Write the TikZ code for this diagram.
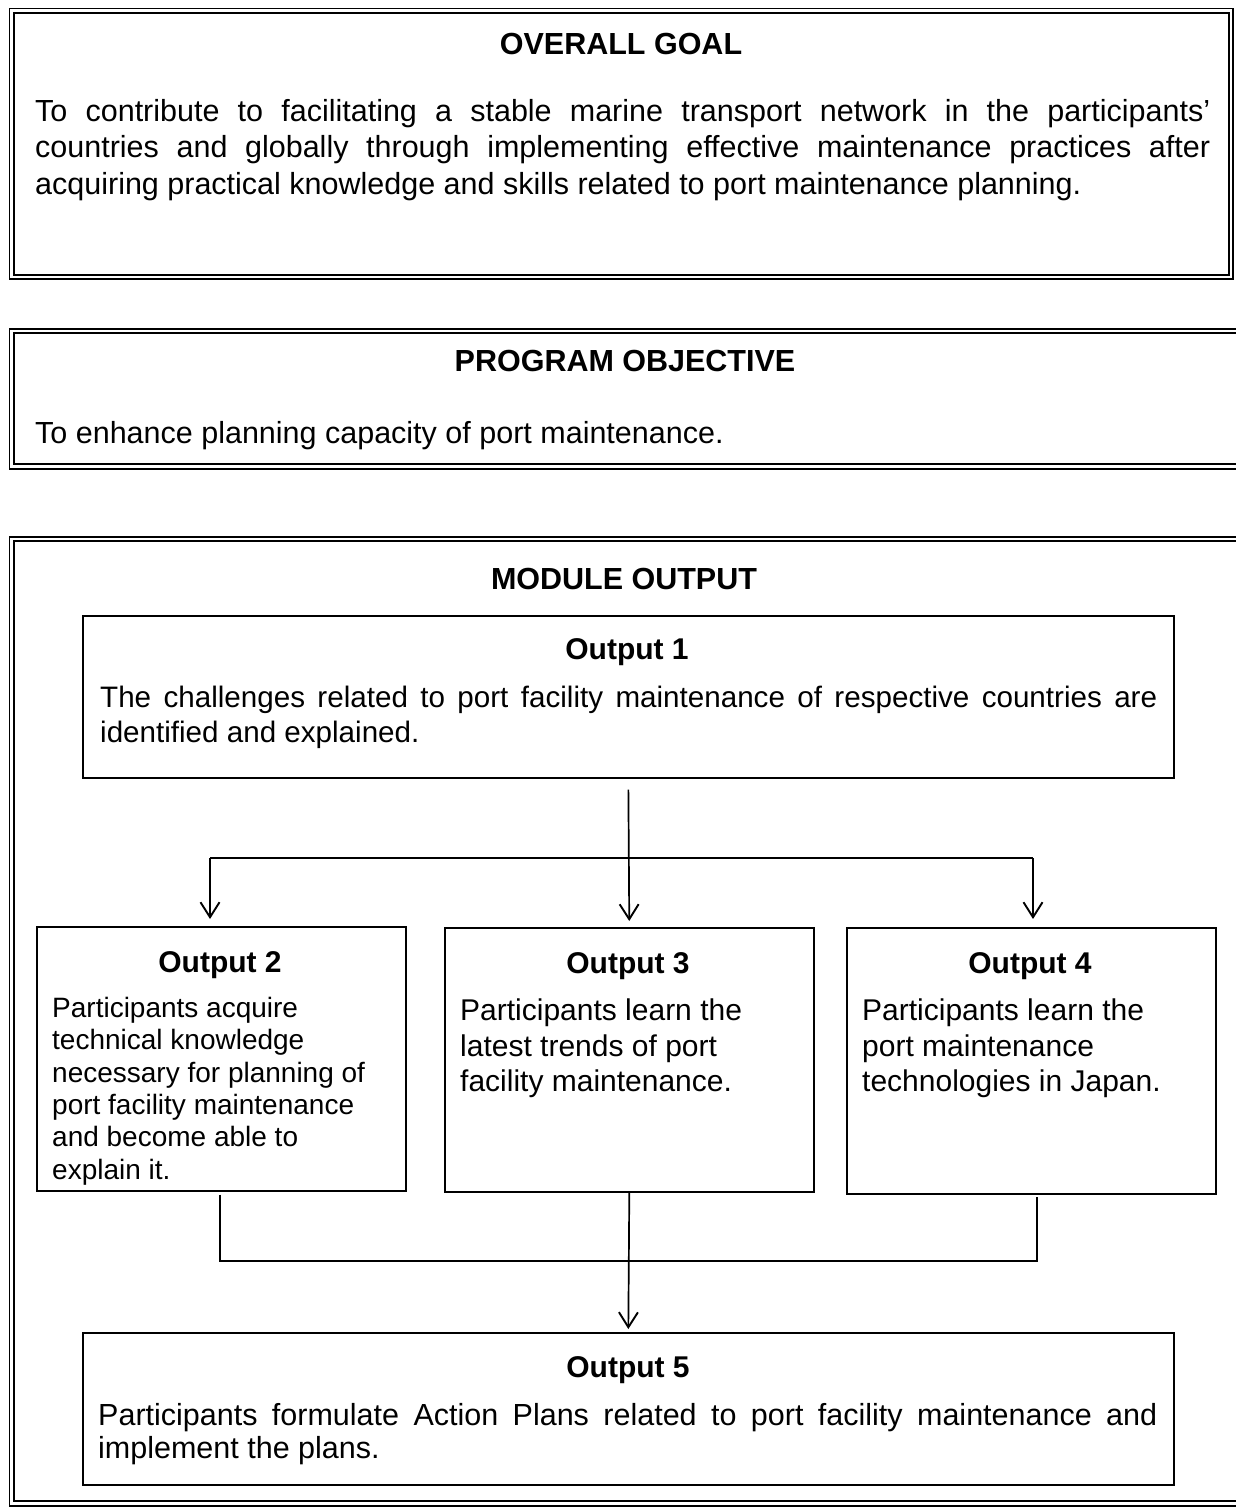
\documentclass[tikz,border=0pt]{standalone}
\usepackage{fontspec}
\setmainfont{Liberation Sans}
\usetikzlibrary{arrows.meta}
\tikzset{
  frame/.style={draw, line width=1.8pt, double, double distance=2.7pt, anchor=north west, inner sep=0pt},
  obox/.style={draw, line width=1.6pt, anchor=north west, inner sep=0pt},
  head/.style={font=\fontsize{30.5}{36}\selectfont\bfseries, anchor=base, inner sep=0pt},
  otitle/.style={font=\fontsize{30}{36}\selectfont\bfseries, anchor=base, inner sep=0pt},
  body/.style={anchor=north west, inner sep=0pt, align=justify},
  conn/.style={line width=1.7pt},
  arr/.style={line width=1.7pt, -{Straight Barb[length=15pt,width=19pt,line width=1.9pt]}}
}
\begin{document}
\begin{tikzpicture}[x=1pt,y=-1pt]
\useasboundingbox (0,0) rectangle (1235,1507);
% frames
\node[frame, minimum width=1219.25pt, minimum height=266.2pt] (goal) at (10.75,9.8) {};
\node[frame, minimum width=1240pt, minimum height=135.5pt] (prog) at (10.75,330) {};
\node[frame, minimum width=1240pt, minimum height=964.5pt] (mod) at (10.75,538) {};
% headings
\node[head] (goalh) at (621,54) {OVERALL GOAL};
\node[body, text width=1175pt, font=\fontsize{30.5}{36.5}\selectfont] (goalt) at (35,99)
 {To contribute to facilitating a stable marine transport network in the participants’\linebreak
  countries and globally through implementing effective maintenance practices after\linebreak
  acquiring practical knowledge and skills related to port maintenance planning.};
\node[head] (progh) at (625,371) {PROGRAM OBJECTIVE};
\node[anchor=base west, inner sep=0pt, font=\fontsize{30.5}{36.5}\selectfont] (progt) at (35,443)
 {To enhance planning capacity of port maintenance.};
\node[head] (modh) at (624,589) {MODULE OUTPUT};
% output boxes
\node[obox, minimum width=1091pt, minimum height=162pt] (o1) at (82,615) {};
\node[obox, minimum width=369pt, minimum height=264pt] (o2) at (36,926) {};
\node[obox, minimum width=369pt, minimum height=264pt] (o3) at (444,927) {};
\node[obox, minimum width=369pt, minimum height=266pt] (o4) at (846,927) {};
\node[obox, minimum width=1091pt, minimum height=152pt] (o5) at (82,1332) {};
% output texts
\node[otitle] (o1h) at (627,659) {Output 1};
\node[body, text width=1057pt, font=\fontsize{29.6}{35}\selectfont] (o1t) at (100,686)
 {The challenges related to port facility maintenance of respective countries are\linebreak
  identified and explained.};
\node[otitle] (o2h) at (220,972) {Output 2};
\node[body, align=left, font=\fontsize{28}{32.3}\selectfont] (o2t) at (52,997)
 {Participants acquire\\ technical knowledge\\ necessary for planning of\\ port facility maintenance\\ and become able to\\ explain it.};
\node[otitle] (o3h) at (628,973) {Output 3};
\node[body, align=left, font=\fontsize{30}{35.5}\selectfont] (o3t) at (460,999)
 {Participants learn the\\ latest trends of port\\ facility maintenance.};
\node[otitle] (o4h) at (1030,973) {Output 4};
\node[body, align=left, font=\fontsize{30}{35.5}\selectfont] (o4t) at (862,999)
 {Participants learn the\\ port maintenance\\ technologies in Japan.};
\node[otitle] (o5h) at (628,1377) {Output 5};
\node[body, text width=1059pt, font=\fontsize{30.5}{33}\selectfont] (o5t) at (98,1403)
 {Participants formulate Action Plans related to port facility maintenance and\linebreak
  implement the plans.};
% connectors
\coordinate (bl) at (210,858);
\coordinate (br) at (1033,858);
\draw[arr, shorten <=11pt, shorten >=6pt] (o1.south) -- (o3.north);
\draw[conn] (bl) -- (br);
\draw[arr, shorten >=7pt] (bl) -- (bl |- o2.north);
\draw[arr, shorten >=8pt] (br) -- (br |- o4.north);
\coordinate (jl) at (220,1261);
\coordinate (jr) at (1037,1261);
\draw[conn] ([shift={(0,3)}]jl |- o2.south) -- (jl) -- (jr) -- ([shift={(0,2)}]jr |- o4.south);
\draw[arr, shorten >=3pt] (o3.south) -- (o5.north);
\end{tikzpicture}
\end{document}
